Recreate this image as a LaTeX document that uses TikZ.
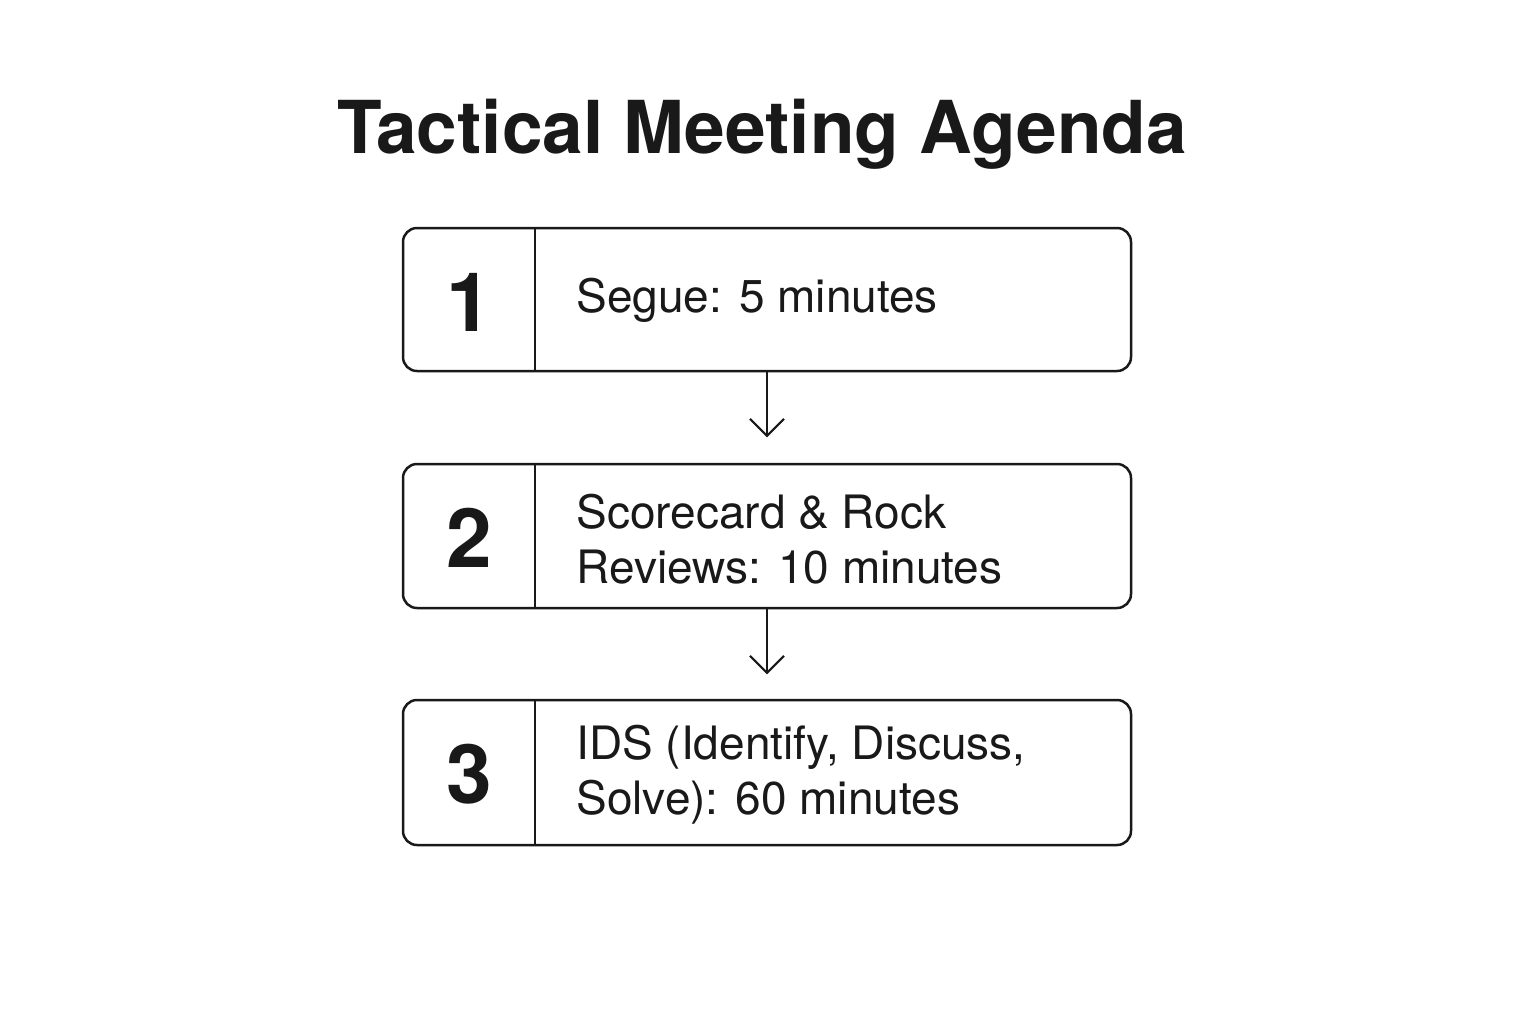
\documentclass[tikz,border=0pt]{standalone}
\usepackage{fontspec}
\setmainfont{TeX Gyre Heros}
\usetikzlibrary{arrows.meta}
\begin{document}
\begin{tikzpicture}[x=0.5pt,y=-0.5pt,
  stepbox/.style={draw=black!90,line width=1.25pt,rounded corners=7pt},
  numtext/.style={font=\fontsize{41}{44}\selectfont\bfseries,text=black!90},
  labeltext/.style={font=\fontsize{23}{27.5}\selectfont,text=black!90,anchor=west,align=left,inner sep=0pt},
  flow/.style={draw=black!90,line width=1.1pt,-{Straight Barb[length=8.5pt,width=17pt,line width=1.1pt]}}]
\useasboundingbox (0,0) rectangle (1536,1024);
\fill[white] (0,0) rectangle (1536,1024);
\node[font=\fontsize{36.5}{40}\selectfont\bfseries,text=black!90] (title) at (762,134) {Tactical Meeting Agenda};
% boxes
\draw[stepbox] (403,228) rectangle (1131,371);
\node (b1) at (767,299.5) [minimum width=364pt,minimum height=71.5pt] {};
\draw[line width=1.25pt,black!90] (535,228) -- (535,371);
\node[numtext] (n1) at (469,302) {1};
\node[labeltext] (t1) at (576,300) {Segue: 5 minutes};

\draw[stepbox] (403,464) rectangle (1131,608);
\node (b2) at (767,536) [minimum width=364pt,minimum height=72pt] {};
\draw[line width=1.25pt,black!90] (535,464) -- (535,608);
\node[numtext] (n2) at (469,538) {2};
\node[labeltext] (t2) at (576,539) {Scorecard \& Rock\\Reviews: 10 minutes};

\draw[stepbox] (403,700) rectangle (1131,845);
\node (b3) at (767,772.5) [minimum width=364pt,minimum height=72.5pt] {};
\draw[line width=1.25pt,black!90] (535,700) -- (535,845);
\node[numtext] (n3) at (469,774) {3};
\node[labeltext] (t3) at (576,775) {IDS (Identify, Discuss,\\Solve): 60 minutes};

\draw[flow] (b1.south) -- ++(0,66) coordinate (a1);
\draw[flow] (b2.south) -- ++(0,66) coordinate (a2);
\end{tikzpicture}
\end{document}
